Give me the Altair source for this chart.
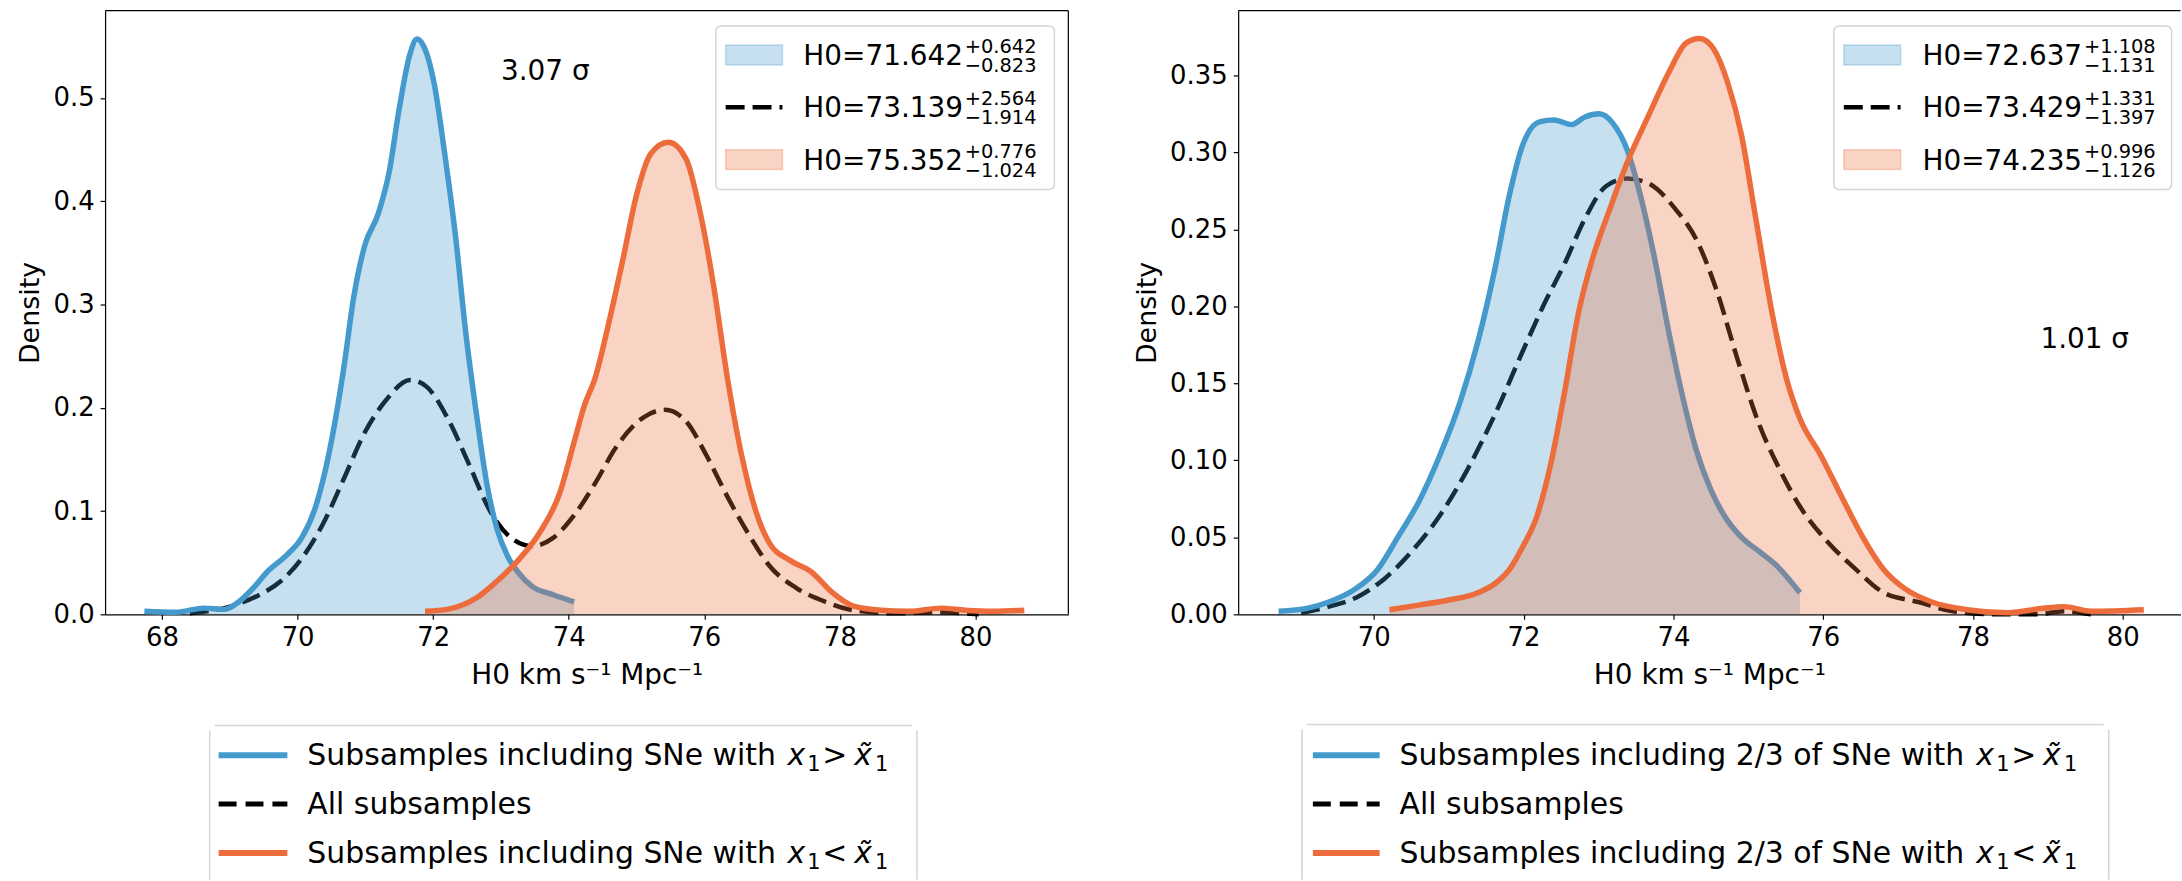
import altair as alt
import pandas as pd

# ---------------- data ----------------
# Left panel
L_blue_x = [67.74, 68.2, 68.62, 68.93, 69.13, 69.34, 69.55, 69.85, 70.06, 70.27, 70.47, 70.68, 70.83, 70.99,
            71.19, 71.35, 71.50, 71.66, 71.76, 71.86, 72.02, 72.17, 72.33, 72.48, 72.64, 72.79, 72.94, 73.10,
            73.25, 73.46, 73.77, 74.08]
L_blue_y = [0.003, 0.002, 0.006, 0.005, 0.012, 0.025, 0.041, 0.058, 0.074, 0.105, 0.158, 0.238, 0.308, 0.357,
            0.388, 0.428, 0.490, 0.543, 0.557, 0.550, 0.512, 0.446, 0.366, 0.273, 0.193, 0.127, 0.083, 0.056,
            0.041, 0.027, 0.019, 0.012]
L_all_x = [68.41, 69.03, 69.44, 69.75, 70.06, 70.37, 70.68, 70.99, 71.30, 71.66, 71.91, 72.22, 72.53, 72.84,
           73.15, 73.46, 73.77, 74.08, 74.39, 74.70, 75.11, 75.42, 75.73, 76.03, 76.34, 76.65, 76.96, 77.37,
           77.79, 78.20, 78.82, 79.43, 80.05]
L_all_y = [0.001, 0.008, 0.019, 0.032, 0.054, 0.087, 0.131, 0.176, 0.207, 0.227, 0.220, 0.189, 0.145, 0.100,
           0.074, 0.066, 0.074, 0.096, 0.127, 0.162, 0.191, 0.198, 0.187, 0.154, 0.114, 0.078, 0.047, 0.025,
           0.012, 0.004, 0.001, 0.002, 0.000]
L_orange_x = [71.88, 72.22, 72.64, 72.94, 73.25, 73.56, 73.87, 74.08, 74.23, 74.39, 74.59, 74.80, 75.00, 75.21,
              75.47, 75.73, 75.93, 76.14, 76.34, 76.55, 76.76, 76.96, 77.27, 77.58, 77.89, 78.20, 78.61, 79.02,
              79.49, 79.85, 80.26, 80.72]
L_orange_y = [0.003, 0.005, 0.016, 0.032, 0.052, 0.078, 0.118, 0.167, 0.202, 0.229, 0.282, 0.344, 0.406, 0.446,
              0.457, 0.441, 0.392, 0.317, 0.229, 0.154, 0.100, 0.069, 0.052, 0.041, 0.021, 0.008, 0.004, 0.003,
              0.006, 0.004, 0.003, 0.004]

# Right panel
R_blue_x = [68.73, 69.12, 69.40, 69.77, 70.05, 70.32, 70.60, 70.88, 71.16, 71.39, 71.62, 71.81, 71.99, 72.22,
            72.41, 72.64, 72.82, 73.01, 73.19, 73.38, 73.56, 73.75, 73.94, 74.12, 74.31, 74.49, 74.68, 74.91,
            75.14, 75.37, 75.69]
R_blue_y = [0.002, 0.004, 0.008, 0.017, 0.029, 0.050, 0.073, 0.103, 0.139, 0.177, 0.225, 0.272, 0.305, 0.320,
            0.321, 0.318, 0.323, 0.325, 0.319, 0.302, 0.272, 0.231, 0.183, 0.142, 0.106, 0.082, 0.064, 0.050,
            0.041, 0.032, 0.014]
R_all_x = [69.03, 69.40, 69.77, 70.14, 70.51, 70.88, 71.25, 71.62, 71.99, 72.27, 72.55, 72.82, 73.10, 73.38,
           73.66, 74.03, 74.31, 74.58, 74.86, 75.14, 75.42, 75.69, 76.06, 76.44, 76.81, 77.27, 77.73, 78.29,
           78.84, 79.21, 79.58]
R_all_y = [0.001, 0.005, 0.011, 0.023, 0.041, 0.064, 0.094, 0.130, 0.171, 0.201, 0.228, 0.257, 0.278, 0.283,
           0.280, 0.263, 0.243, 0.210, 0.165, 0.124, 0.094, 0.070, 0.047, 0.029, 0.014, 0.008, 0.002, 0.000,
           0.000, 0.002, 0.000]
R_orange_x = [70.21, 70.60, 70.97, 71.39, 71.62, 71.81, 71.99, 72.18, 72.36, 72.55, 72.73, 72.92, 73.15, 73.38,
              73.66, 73.94, 74.17, 74.35, 74.54, 74.72, 74.91, 75.09, 75.32, 75.51, 75.69, 75.97, 76.25, 76.53,
              76.81, 77.08, 77.45, 77.92, 78.47, 78.94, 79.21, 79.58, 80.28]
R_orange_y = [0.003, 0.006, 0.009, 0.014, 0.020, 0.029, 0.044, 0.064, 0.097, 0.145, 0.195, 0.231, 0.263, 0.293,
              0.323, 0.352, 0.371, 0.374, 0.367, 0.346, 0.311, 0.260, 0.195, 0.153, 0.127, 0.103, 0.076, 0.050,
              0.029, 0.017, 0.008, 0.003, 0.001, 0.004, 0.005, 0.002, 0.003]

# Text content
L_h0 = ["71.642", "73.139", "75.352"]
L_plus = ["+0.642", "+2.564", "+0.776"]
L_minus = ["\u22120.823", "\u22121.914", "\u22121.024"]
R_h0 = ["72.637", "73.429", "74.235"]
R_plus = ["+1.108", "+1.331", "+0.996"]
R_minus = ["\u22121.131", "\u22121.397", "\u22121.126"]
L_legend = ["Subsamples including SNe with ", "All subsamples", "Subsamples including SNe with "]
R_legend = ["Subsamples including 2/3 of SNe with ", "All subsamples", "Subsamples including 2/3 of SNe with "]
math_ops = [">", "", "<"]          # x_1 (op) x~_1
L_sigma = "3.07 \u03c3"
R_sigma = "1.01 \u03c3"
L_xticks = [68, 70, 72, 74, 76, 78, 80]
R_xticks = [70, 72, 74, 76, 78, 80]
L_yticks = [0.0, 0.1, 0.2, 0.3, 0.4, 0.5]
R_yticks = [0.0, 0.05, 0.10, 0.15, 0.20, 0.25, 0.30, 0.35]

BLUE = "#4499cd"
ORANGE = "#ec6c3c"
FONT = "DejaVu Sans"
DASH = [19, 8]
OY = 7.5          # absolute y of plot top
H = 606
one = pd.DataFrame({"k": [0]})


def df(xs, ys):
    return pd.DataFrame({"x": xs, "y": ys})


def txt(x, y, s, size, style="normal"):
    return (alt.Chart(one)
            .mark_text(align="left", baseline="alphabetic", font=FONT, fontSize=size, fontStyle=style,
                       color="black")
            .encode(x=alt.value(x), y=alt.value(y), text=alt.value(s)))


def panel(blue, allc, orange, xdom, ydom, xticks, yticks, yfmt, width, ox,
          h0, plus, minus, box_x, text_x, sup_x, sigma, sigma_xy,
          leg_labels, leg_box, leg_handle, leg_text_x, math_x, right_frame):
    X = alt.X("x:Q", scale=alt.Scale(domain=xdom, nice=False, zero=False),
              axis=alt.Axis(values=xticks, format="d", labelPadding=5, titlePadding=11,
                            titleFontSize=28, labelFlush=False),
              title="H0 km s\u207b\u00b9 Mpc\u207b\u00b9")
    Y = alt.Y("y:Q", scale=alt.Scale(domain=ydom, nice=False, zero=False),
              axis=alt.Axis(values=yticks, format=yfmt, labelPadding=6, titlePadding=8,
                            titleFontSize=27, labelFlush=False),
              title="Density")
    lx = lambda a: a - ox
    ly = lambda a: a - OY
    layers = []
    layers.append(alt.Chart(df(*allc)).mark_line(color="black", strokeWidth=4.5, strokeDash=DASH,
                                                  interpolate="monotone").encode(x=X, y=Y))
    layers.append(alt.Chart(df(*blue)).mark_area(color=BLUE, opacity=0.3, interpolate="monotone")
                  .encode(x=X, y=Y, y2=alt.datum(0)))
    layers.append(alt.Chart(df(*blue)).mark_line(color=BLUE, strokeWidth=5.5, interpolate="monotone")
                  .encode(x=X, y=Y))
    layers.append(alt.Chart(df(*orange)).mark_area(color=ORANGE, opacity=0.3, interpolate="monotone")
                  .encode(x=X, y=Y, y2=alt.datum(0)))
    layers.append(alt.Chart(df(*orange)).mark_line(color=ORANGE, strokeWidth=5.5, interpolate="monotone")
                  .encode(x=X, y=Y))
    # sigma annotation (data coordinates)
    layers.append(alt.Chart(one).mark_text(align="left", baseline="alphabetic", font=FONT, fontSize=28,
                                           color="black")
                  .encode(x=alt.datum(sigma_xy[0]), y=alt.datum(sigma_xy[1]), text=alt.value(sigma)))
    # frame
    layers.append(alt.Chart(one).mark_rule(color="black", strokeWidth=1.2)
                  .encode(x=alt.value(0), x2=alt.value(width), y=alt.value(0), y2=alt.value(0)))
    if right_frame:
        layers.append(alt.Chart(one).mark_rule(color="black", strokeWidth=1.2)
                      .encode(x=alt.value(width), x2=alt.value(width), y=alt.value(0), y2=alt.value(H)))
    # inset legend
    layers.append(alt.Chart(one).mark_rect(fill="white", stroke="#d4d4d4", strokeWidth=1.5, cornerRadius=5)
                  .encode(x=alt.value(lx(box_x[0])), x2=alt.value(lx(box_x[1])),
                          y=alt.value(ly(23)), y2=alt.value(ly(187))))
    rows = [52, 104.5, 157]
    for i, rc in enumerate(rows):
        if i == 1:
            layers.append(alt.Chart(one).mark_rule(color="black", strokeWidth=4.5, strokeDash=DASH)
                          .encode(x=alt.value(lx(box_x[0] + 10)), x2=alt.value(lx(box_x[0] + 67)),
                                  y=alt.value(ly(rc)), y2=alt.value(ly(rc))))
        else:
            c = BLUE if i == 0 else ORANGE
            layers.append(alt.Chart(one).mark_rect(fill=c, fillOpacity=0.3, stroke=c, strokeOpacity=0.3,
                                                   strokeWidth=1.5)
                          .encode(x=alt.value(lx(box_x[0] + 10)), x2=alt.value(lx(box_x[0] + 67)),
                                  y=alt.value(ly(rc - 10)), y2=alt.value(ly(rc + 10))))
        base = rc + 10
        layers.append(txt(lx(text_x), ly(base), "H0=" + h0[i], 28))
        layers.append(txt(lx(sup_x), ly(base - 12), plus[i], 19.5))
        layers.append(txt(lx(sup_x), ly(base + 7), minus[i], 19.5))
    # bottom legend (box cut by the picture's lower edge)
    bx0, bx1, by0 = leg_box
    edge = "#d4d4d4"
    layers.append(alt.Chart(one).mark_rule(color=edge, strokeWidth=1.5)
                  .encode(x=alt.value(lx(bx0 + 5)), x2=alt.value(lx(bx1 - 5)),
                          y=alt.value(ly(by0)), y2=alt.value(ly(by0))))
    for xx in (bx0, bx1):
        layers.append(alt.Chart(one).mark_rule(color=edge, strokeWidth=1.5)
                      .encode(x=alt.value(lx(xx)), x2=alt.value(lx(xx)),
                              y=alt.value(ly(by0 + 5)), y2=alt.value(ly(880))))
    hrows = [755, 804, 853]
    for i, hy in enumerate(hrows):
        if i == 1:
            layers.append(alt.Chart(one).mark_rule(color="black", strokeWidth=5, strokeDash=[18, 9])
                          .encode(x=alt.value(lx(leg_handle[0])), x2=alt.value(lx(leg_handle[1])),
                                  y=alt.value(ly(hy)), y2=alt.value(ly(hy))))
        else:
            c = BLUE if i == 0 else ORANGE
            layers.append(alt.Chart(one).mark_rule(color=c, strokeWidth=6)
                          .encode(x=alt.value(lx(leg_handle[0])), x2=alt.value(lx(leg_handle[1])),
                                  y=alt.value(ly(hy)), y2=alt.value(ly(hy))))
        b = ly(hy + 10)
        layers.append(txt(lx(leg_text_x), b, leg_labels[i], 30))
        if math_ops[i]:
            m = lx(math_x)
            layers.append(txt(m, b, "x", 30, "italic"))
            layers.append(txt(m + 20, b + 6, "1", 21))
            layers.append(txt(m + 35, b, math_ops[i], 30))
            layers.append(txt(m + 67, b, "x\u0303", 30, "italic"))
            layers.append(txt(m + 88, b + 6, "1", 21))
    return alt.layer(*layers).properties(width=width, height=H)


left = panel((L_blue_x, L_blue_y), (L_all_x, L_all_y), (L_orange_x, L_orange_y),
             [67.16, 81.37], [0, 0.5845], L_xticks, L_yticks, ".1f", 967, 104,
             L_h0, L_plus, L_minus, (717, 1057), 805, 967, L_sigma, (73.0, 0.517),
             L_legend, (209, 919, 725), (218, 287), 307, 307 + 482, True)
right = panel((R_blue_x, R_blue_y), (R_all_x, R_all_y), (R_orange_x, R_orange_y),
              [68.19, 80.77], [0, 0.392], R_xticks, R_yticks, ".2f", 946, 1236,
              R_h0, R_plus, R_minus, (1834, 2173), 1923, 2085, R_sigma, (78.9, 0.173),
              R_legend, (1300, 2110, 724), (1311, 1378), 1398, 1398 + 579, False)

chart = alt.hconcat(left, right, spacing=62.5).properties(
    padding={"left": 16.5, "top": 7, "right": 0, "bottom": 0},
    background="white",
).configure_view(stroke="transparent").configure_axis(
    grid=False, domainColor="black", domainWidth=1.2, tickColor="black", tickSize=5, tickWidth=1.2,
    labelFont=FONT, labelFontSize=26, labelColor="black", titleFont=FONT, titleFontWeight="normal",
    titleColor="black",
)

chart.save("out.html", embed_options={"renderer": "svg", "actions": False})
